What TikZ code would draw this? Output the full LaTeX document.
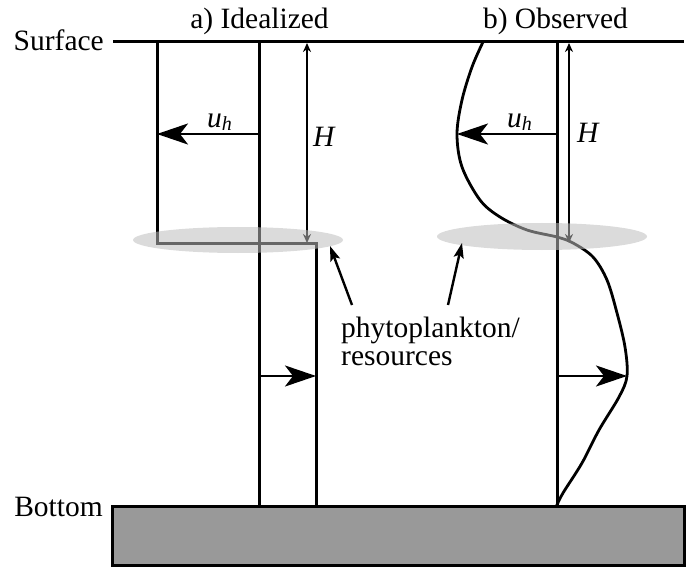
\documentclass[tikz,border=0pt]{standalone}
\usepackage{fontspec}
\setmainfont{Liberation Serif}
\usetikzlibrary{arrows.meta}
\begin{document}
\begin{tikzpicture}[x=1pt,y=-1pt,
  lbl/.style={inner sep=0pt, font=\fontsize{29.5}{34}\selectfont},
  thickln/.style={line width=3pt},
  bigarrow/.style={line width=2.4pt, -{Stealth[length=31pt,width=21pt,inset=8pt]}},
  harrow/.style={line width=2.4pt, {Stealth[length=9pt,width=8pt]}-{Stealth[length=9pt,width=8pt]}},
  ptr/.style={line width=2.4pt, -{Stealth[length=15pt,width=10pt,inset=3pt]}},
  blob/.style={fill=black!26, fill opacity=0.54, draw=none}]
\useasboundingbox (0,0) rectangle (686,567);

% ground
\draw[line width=3pt, fill=black!40] (112.5,506) rectangle (684,565.5);

% coordinates
\coordinate (sL) at (113,42);
\coordinate (sR) at (684,42);
\coordinate (aCtop) at (259,42);
\coordinate (aCbot) at (259,506);
\coordinate (aLtop) at (157,42);
\coordinate (aLbot) at (157,243);
\coordinate (aRtop) at (316,243);
\coordinate (aRbot) at (316,506);
\coordinate (aU0) at (259,134);
\coordinate (aU1) at (157,134);
\coordinate (aH0) at (307,43);
\coordinate (aH1) at (307,243);
\coordinate (aD0) at (260,376);
\coordinate (aD1) at (316,376);
\coordinate (bCtop) at (557,42);
\coordinate (bCbot) at (557,506);
\coordinate (bU0) at (557,134);
\coordinate (bU1) at (457,134);
\coordinate (bH0) at (569,43);
\coordinate (bH1) at (569,243);
\coordinate (bD0) at (557,376);
\coordinate (bD1) at (627,376);

% surface
\draw[thickln] (sL) -- (sR);

% panel a
\draw[thickln] (aCtop) -- (aCbot);
\draw[thickln] (aLtop) -- (aLbot) -- (aRtop) -- (aRbot);
\draw[bigarrow] (aU0) -- (aU1);
\draw[harrow] (aH0) -- (aH1);
\draw[bigarrow] (aD0) -- (aD1);

% panel b
\draw[thickln] (bCtop) -- (bCbot);
\draw[line width=2.8pt] plot[smooth, tension=0.55] coordinates {
 (483,42) (472,67) (462,100) (457,134) (462,167) (480,200) (500,217)
 (527,230) (557,237) (573,243) (593,257) (607,280) (617,313) (625,347)
 (627,376) (619,397) (599,430) (582,463) (563,493) (556.5,506)};
\draw[bigarrow] (bU0) -- (bU1);
\draw[harrow] (bH0) -- (bH1);
\draw[bigarrow] (bD0) -- (bD1);

% shaded layers
\fill[blob] (238,240) ellipse [x radius=105pt, y radius=13pt];
\fill[blob] (542,236.5) ellipse [x radius=105pt, y radius=13.5pt];
\coordinate (ellA) at (330,246);
\coordinate (ellB) at (462,243);
\coordinate (pA) at (352,305);
\coordinate (pB) at (448,305);
\draw[ptr] (pA) -- (ellA);
\draw[ptr] (pB) -- (ellB);

% labels
\node[lbl, anchor=base east] (surf) at (104,51) {Surface};
\node[lbl, anchor=base east] (bot) at (103,516) {Bottom};
\node[lbl, anchor=base] (ta) at (259.5,29) {a) Idealized};
\node[lbl, anchor=base] (tb) at (555.5,29) {b) Observed};
\node[lbl, anchor=base west] (phy) at (341,337) {phytoplankton/};
\node[lbl, anchor=base west] (res) at (341,365) {resources};
\node[lbl, anchor=base west] (Ha) at (313,147) {\textit{H}};
\node[lbl, anchor=base west] (Hb) at (577,143) {\textit{H}};
\node[lbl, anchor=base west] (ua) at (207,128) {\textit{u}\raisebox{-3pt}{\fontsize{20}{20}\selectfont\textit{h}}};
\node[lbl, anchor=base west] (ub) at (507,128) {\textit{u}\raisebox{-3pt}{\fontsize{20}{20}\selectfont\textit{h}}};
\end{tikzpicture}
\end{document}
